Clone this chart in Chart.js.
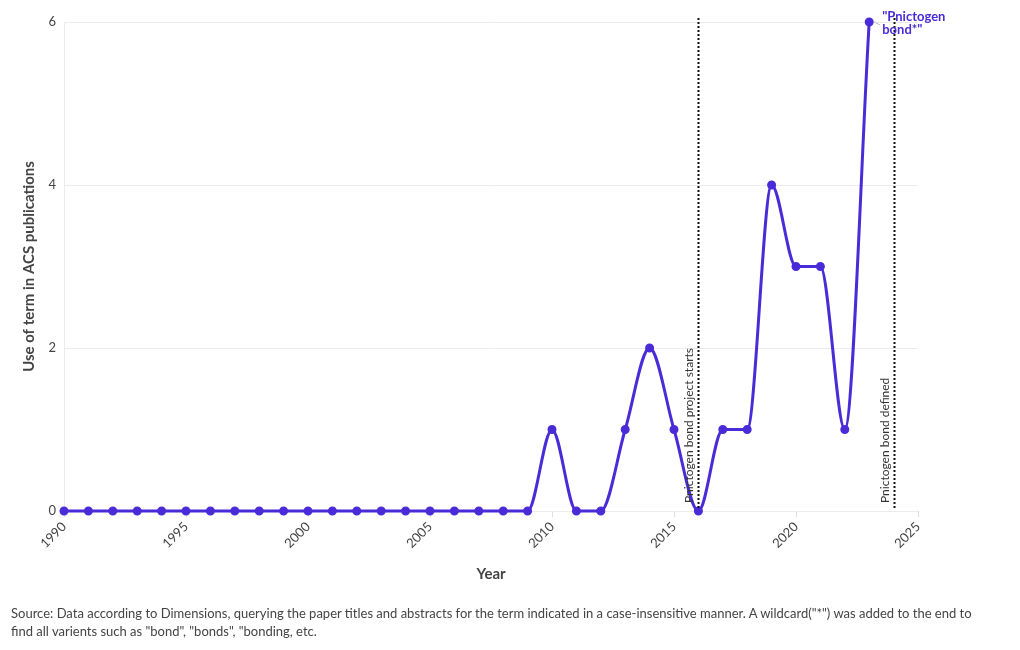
<!DOCTYPE html>
<html>
<head>
<meta charset="utf-8">
<script src="https://cdn.jsdelivr.net/npm/chart.js@4/dist/chart.umd.min.js"></script>
<style>
  body { margin: 0; background: #fff; }
  #wrap { position: relative; width: 1020px; height: 650px; }
  #note { position: absolute; left: 11px; top: 604px; width: 1005px; font: 13px Lato, sans-serif; color: #444; line-height: 18px; }
</style>
</head>
<body>
<div id="wrap">
  <canvas id="myChart" width="1020" height="650"></canvas>
  <div id="note">Source: Data according to Dimensions, querying the paper titles and abstracts for the term indicated in a case-insensitive manner. A wildcard("*") was added to the end to<br>find all varients such as "bond", "bonds", "bonding, etc.</div>
</div>
<script>
// ---------- data ----------
let years = [1990, 1991, 1992, 1993, 1994, 1995, 1996, 1997, 1998, 1999,
             2000, 2001, 2002, 2003, 2004, 2005, 2006, 2007, 2008, 2009,
             2010, 2011, 2012, 2013, 2014, 2015, 2016, 2017, 2018, 2019,
             2020, 2021, 2022, 2023];
let uses  = [0, 0, 0, 0, 0, 0, 0, 0, 0, 0,
             0, 0, 0, 0, 0, 0, 0, 0, 0, 0,
             1, 0, 0, 1, 2, 1, 0, 1, 1, 4,
             3, 3, 1, 6];
let eventYears  = [2016, 2024];
let eventLabels = ["Pnictogen bond project starts", "Pnictogen bond defined"];
let seriesName  = ['"Pnictogen', 'bond*"'];
let xTicks = [1990, 1995, 2000, 2005, 2010, 2015, 2020, 2025];
let yTicks = [0, 2, 4, 6];

let purple = "#4a2bd8";
let textCol = "#444";
let font = "Lato, 'Open Sans', sans-serif";

// ---------- dotted event lines + end label ----------
let extras = {
  id: "extras",
  afterDatasetsDraw(chart) {
    let ctx = chart.ctx;
    let x = chart.scales.x, y = chart.scales.y;
    ctx.save();
    eventYears.forEach((yr, i) => {
      let px = Math.round(x.getPixelForValue(yr)) + 0.5;
      ctx.strokeStyle = "#111";
      ctx.lineWidth = 2;
      ctx.setLineDash([2, 2]);
      ctx.beginPath();
      ctx.moveTo(px, y.top - 4);
      ctx.lineTo(px, y.bottom - 2);
      ctx.stroke();
      ctx.setLineDash([]);
      ctx.translate(px - 9, y.bottom - 8);
      ctx.rotate(-Math.PI / 2);
      ctx.fillStyle = "#333";
      ctx.font = "12px " + font;
      ctx.textAlign = "left";
      ctx.textBaseline = "middle";
      ctx.fillText(eventLabels[i], 0, 0);
      ctx.setTransform(1, 0, 0, 1, 0, 0);
    });
    // label at end of line
    let lastX = x.getPixelForValue(years[years.length - 1]);
    let lastY = y.getPixelForValue(uses[uses.length - 1]);
    ctx.strokeStyle = "#bbb";
    ctx.lineWidth = 1;
    ctx.beginPath();
    ctx.moveTo(lastX + 5, lastY);
    ctx.lineTo(lastX + 11, lastY + 3);
    ctx.stroke();
    ctx.fillStyle = purple;
    ctx.font = "bold 13px " + font;
    ctx.textAlign = "left";
    ctx.textBaseline = "middle";
    ctx.fillText(seriesName[0], lastX + 13, lastY - 5);
    ctx.fillText(seriesName[1], lastX + 13, lastY + 8);
    ctx.restore();
  }
};

new Chart("myChart", {
  type: "line",
  data: {
    datasets: [{
      data: years.map((yr, i) => ({ x: yr, y: uses[i] })),
      borderColor: purple,
      backgroundColor: purple,
      borderWidth: 3,
      pointRadius: 3,
      pointHoverRadius: 3,
      cubicInterpolationMode: "monotone",
      clip: false
    }]
  },
  options: {
    responsive: false,
    animation: false,
    layout: { padding: { left: 16, top: 22, right: 102, bottom: 67 } },
    plugins: { legend: { display: false }, tooltip: { enabled: false } },
    scales: {
      x: {
        type: "linear",
        min: 1990,
        max: 2025,
        afterFit: s => { s.height = 72; },
        afterBuildTicks: s => { s.ticks = xTicks.map(v => ({ value: v })); },
        ticks: {
          callback: v => String(v),
          minRotation: 45,
          maxRotation: 45,
          color: textCol,
          font: { family: font, size: 13 },
          padding: 2
        },
        grid: { drawOnChartArea: false, drawTicks: true, tickLength: 6, color: "#ddd" },
        border: { display: false },
        title: { display: true, text: "Year", color: textCol, font: { family: font, size: 15, weight: "bold" }, padding: { top: 4, bottom: 0 } }
      },
      y: {
        min: 0,
        max: 6,
        afterFit: s => { s.width = 48; },
        afterBuildTicks: s => { s.ticks = yTicks.map(v => ({ value: v })); },
        ticks: { color: textCol, font: { family: font, size: 13 }, padding: 8 },
        grid: { color: "#ececec", drawTicks: false },
        border: { display: true, color: "#ececec" },
        title: { display: true, text: "Use of term in ACS publications", color: textCol, font: { family: font, size: 15, weight: "bold" }, padding: 4 }
      }
    }
  },
  plugins: [extras]
});
</script>
</body>
</html>
